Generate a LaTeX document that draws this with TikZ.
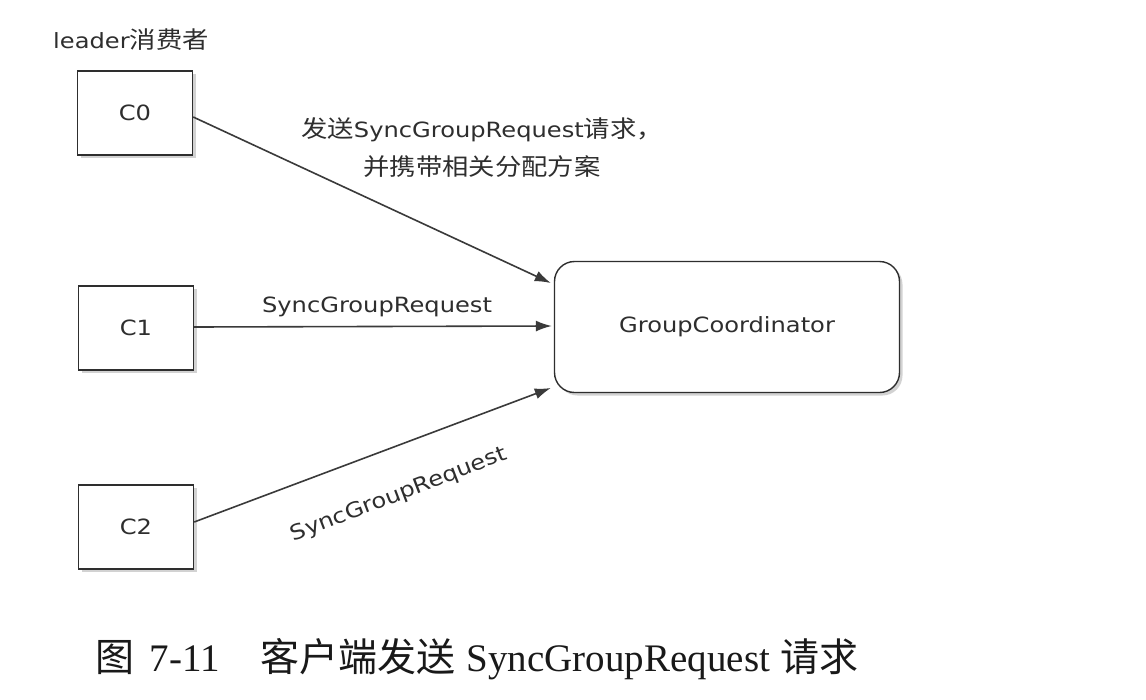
\documentclass[tikz,border=0pt]{standalone}
\usepackage{fontspec}
\setmainfont{Liberation Serif}
\newfontfamily\dsans[FakeStretch=1.15]{DejaVu Sans}
\newfontfamily\cjk[FakeStretch=1.12,Scale=1.12]{Noto Sans CJK SC}
\newfontfamily\cjkcap{Noto Sans CJK SC}
\usetikzlibrary{arrows.meta,shadows}
\definecolor{ink}{HTML}{2E2E2E}
\definecolor{arrowgray}{HTML}{3A3A3A}
\tikzset{
  client/.style={draw=ink, line width=1.4pt, fill=white, minimum width=115pt, minimum height=84pt,
    drop shadow={shadow xshift=3pt, shadow yshift=-3pt, opacity=0.35, fill=gray},
    font=\dsans\fontsize{21}{25}\selectfont, text=ink, inner sep=0pt},
  coord/.style={draw=ink, line width=1.4pt, fill=white, rounded corners=20pt, minimum width=345pt, minimum height=131pt,
    drop shadow={shadow xshift=3pt, shadow yshift=-3pt, opacity=0.35, fill=gray},
    font=\dsans\fontsize{21}{25}\selectfont, text=ink, inner sep=0pt},
  msg/.style={draw=arrowgray, line width=1.6pt, -{Latex[length=16pt,width=11pt]}},
  lbl/.style={font=\dsans\fontsize{21}{25}\selectfont, text=ink, inner sep=0pt},
}
\begin{document}
\begin{tikzpicture}[x=1pt,y=-1pt]
\useasboundingbox (0,0) rectangle (1146,699);
\fill[white] (0,0) rectangle (1146,699);

\node[lbl, anchor=west] (lead) at (53,40) {leader{\cjk 消费者}};
\node[client] (c0) at (135,113) {C0};
\node[client] (c1) at (136,328) {C1};
\node[client] (c2) at (136,527) {C2};
\node[coord] (gc) at (727,327) {GroupCoordinator};

\draw[msg] ([yshift=-4pt]c0.east) -- ([xshift=-3pt,yshift=44pt]gc.west);
\draw[msg] ([yshift=1pt]c1.east) -- ([xshift=-2pt,yshift=1pt]gc.west);
\draw[msg] ([yshift=5pt]c2.east) -- ([xshift=-3pt,yshift=-61pt]gc.west);

\node[lbl, align=center, font=\dsans\fontsize{21}{38}\selectfont] (l0) at (482,148)
  {{\cjk 发送}SyncGroupRequest{\cjk 请求，}\\{\cjk 并携带相关分配方案}};
\node[lbl] (l1) at (377,307) {SyncGroupRequest};
\node[lbl, rotate=21] (l2) at (399,495) {SyncGroupRequest};

\node[anchor=base west, inner sep=0pt, text=black!90, font=\fontsize{39}{44}\selectfont] (cap) at (95,671)
  {{\cjkcap 图}\hspace{0.4em}7-11\hspace{1.05em}{\cjkcap 客户端发送}\hspace{0.28em}SyncGroupRequest\hspace{0.28em}{\cjkcap 请求}};
\end{tikzpicture}
\end{document}
